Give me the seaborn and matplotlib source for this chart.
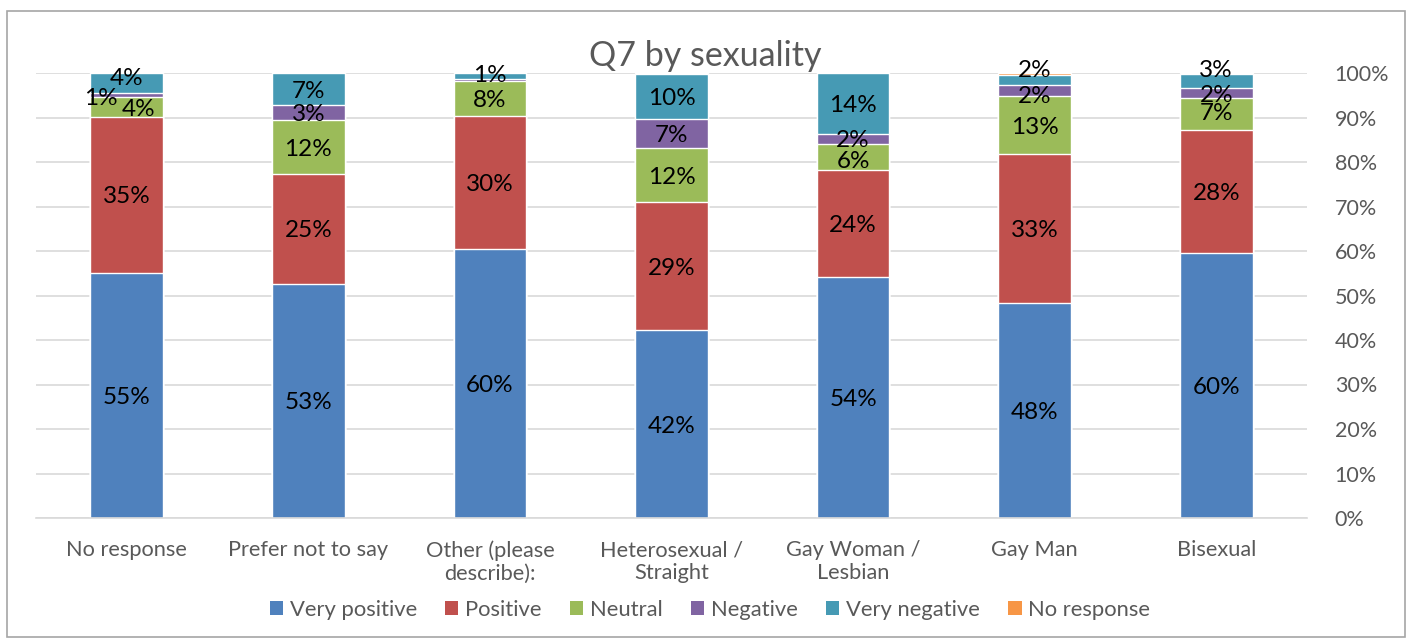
import numpy as np
import pandas as pd
import matplotlib.pyplot as plt
from matplotlib.patches import Patch, Rectangle
import seaborn as sns

sns.set_theme(style="white")
plt.rcParams['font.family'] = ['Lato', 'DejaVu Sans']

categories = ["No response", "Prefer not to say", "Other (please\ndescribe):",
              "Heterosexual /\nStraight", "Gay Woman /\nLesbian", "Gay Man", "Bisexual"]
series = ["Very positive", "Positive", "Neutral", "Negative", "Very negative", "No response"]

very_positive = [55.1, 52.6, 60.4, 42.2, 54.2, 48.3, 59.6]
positive = [35.0, 24.7, 29.9, 28.8, 24.0, 33.4, 27.6]
neutral = [4.4, 12.1, 7.8, 12.1, 5.8, 13.1, 7.2]
negative = [1.1, 3.3, 0.5, 6.6, 2.2, 2.4, 2.2]
very_negative = [4.4, 7.3, 1.4, 10.0, 13.8, 2.4, 3.2]
no_response = [0.0, 0.0, 0.0, 0.3, 0.0, 0.4, 0.2]

colors = ["#4F81BD", "#C0504D", "#9BBB59", "#8064A2", "#469AB4", "#F79646"]
grey = "#595959"

values = np.array([very_positive, positive, neutral, negative, very_negative, no_response])
cum = values.cumsum(axis=0)

df = pd.DataFrame({
    "category": np.tile(categories, len(series)),
    "series": np.repeat(series, len(categories)),
    "value": values.ravel(),
    "top": cum.ravel(),
})

fig = plt.figure(figsize=(14.13, 6.39), dpi=100)
ax = fig.add_axes([36 / 1413, 121 / 639, 1271 / 1413, 445 / 639])

# stacked bars: draw cumulative totals from the top layer down
for i in range(len(series) - 1, -1, -1):
    sub = df[df["series"] == series[i]]
    sns.barplot(data=sub, x="category", y="top", color=colors[i], width=0.4,
                saturation=1, ax=ax, order=categories, zorder=2)

# data labels (a few nudged like in the original)
nudge = {(0, 2): (12, 0), (0, 3): (-26, -1), (0, 4): (0, 6), (2, 4): (0, 3),
         (4, 2): (0, -2), (4, 3): (0, 1),
         (5, 3): (0, -4), (5, 4): (0, 12), (6, 4): (0, 13), (6, 2): (0, 2)}
for i in range(len(series)):
    for j in range(len(categories)):
        v = values[i, j]
        if v < 1:
            continue
        dx, dy = nudge.get((j, i), (0, 0))
        ax.annotate(f"{round(v)}%", (j, cum[i, j] - v / 2), xytext=(dx, dy - 2),
                    textcoords="offset pixels", ha="center", va="center",
                    fontsize=17.5, color="black", zorder=5)

ax.set_xlim(-0.5, len(categories) - 0.5)
ax.set_ylim(0, 100)
ax.set_yticks(np.arange(0, 101, 10))
ax.set_yticklabels([f"{t}%" for t in range(0, 101, 10)])
ax.yaxis.tick_right()
ax.grid(axis="y", color="#D9D9D9", linewidth=1.2, zorder=0)
ax.set_axisbelow(True)
ax.tick_params(axis="y", length=0, pad=20, labelsize=15.5, labelcolor=grey)
ax.tick_params(axis="x", length=0, pad=16, labelsize=15.7, labelcolor=grey)
ax.set_xlabel("")
ax.set_ylabel("")
for s in ["top", "left", "right"]:
    ax.spines[s].set_visible(False)
ax.spines["bottom"].set_color("#D9D9D9")
ax.spines["bottom"].set_linewidth(1.2)

fig.text(705 / 1413, 1 - 56 / 639, "Q7 by sexuality", ha="center", va="center",
         fontsize=24.5, color=grey)

handles = [Patch(facecolor=c, edgecolor="none") for c in colors]
fig.legend(handles, series, loc="center", bbox_to_anchor=(710 / 1413, 1 - 610 / 639),
           ncol=6, frameon=False, fontsize=15.8, handlelength=0.6, handleheight=0.6,
           handletextpad=0.3, columnspacing=1.3, labelcolor=grey)

fig.patches.append(Rectangle((7 / 1413, 2 / 639), 1398 / 1413, 626 / 639,
                             transform=fig.transFigure, fill=False,
                             edgecolor="#A6A6A6", linewidth=1.2))

fig.savefig("out.png", dpi=100)
